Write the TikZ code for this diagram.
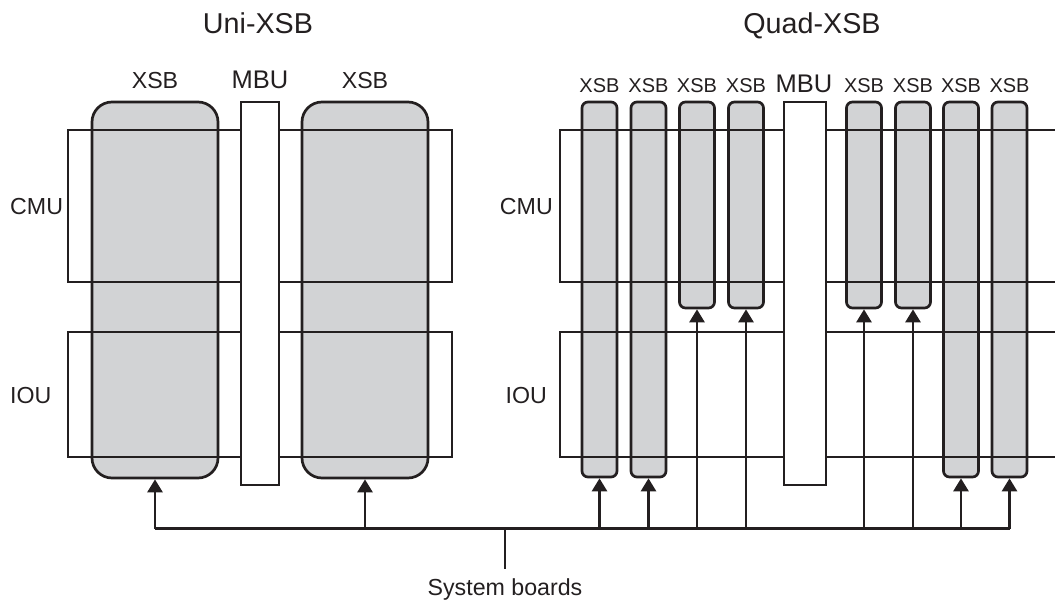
\documentclass[tikz,border=0pt]{standalone}
\usepackage{fontspec}
\setmainfont{Liberation Sans}
\usetikzlibrary{arrows.meta}
\definecolor{xsbgray}{RGB}{210,211,213}
\definecolor{ink}{RGB}{35,31,32}
\begin{document}
\begin{tikzpicture}[x=1pt,y=-1pt,
  lw/.style={line width=2.7pt, draw=ink},
  bigxsb/.style={lw, fill=xsbgray, rounded corners=20pt, minimum width=126pt, minimum height=376pt, inner sep=0pt},
  longxsb/.style={lw, fill=xsbgray, rounded corners=6pt, minimum width=35pt, minimum height=375pt, inner sep=0pt},
  shortxsb/.style={lw, fill=xsbgray, rounded corners=6pt, minimum width=35pt, minimum height=206pt, inner sep=0pt},
  unitbox/.style={lw, inner sep=0pt},
  mbubox/.style={lw, fill=white, inner sep=0pt},
  arr/.style={lw, -{Triangle[width=15pt,length=13pt]}},
  bus/.style={lw},
  lab/.style={inner sep=0pt, text=ink, anchor=base},
  title/.style={lab, font=\fontsize{28.7}{32}\selectfont},
  txt/.style={lab, font=\fontsize{23.2}{27}\selectfont},
  mbutxt/.style={lab, font=\fontsize{25.5}{29}\selectfont},
  smalltxt/.style={lab, font=\fontsize{20}{24}\selectfont}
]
\useasboundingbox (0,0) rectangle (1055,601);
\clip (0,0) rectangle (1055,601);

% ---------- Uni-XSB ----------
\node[bigxsb] (ux1) at (155,290) {};
\node[bigxsb] (ux2) at (365,290) {};
\node[unitbox, minimum width=384pt, minimum height=152pt] (ucmu) at (260,206) {};
\node[unitbox, minimum width=384pt, minimum height=125pt] (uiou) at (260,394.5) {};
\node[mbubox, minimum width=38pt, minimum height=383pt] (umbu) at (260,293.5) {};

\node[title] (tuni) at (258,34) {Uni-XSB};
\node[txt] (lux1) at (155,89) {XSB};
\node[mbutxt] (lumbu) at (260,89) {MBU};
\node[txt] (lux2) at (365,89) {XSB};
\node[txt, anchor=base west] (lucmu) at (10,215) {CMU};
\node[txt, anchor=base west] (luiou) at (10,403) {IOU};

% ---------- Quad-XSB ----------
\node[longxsb]  (q1) at (599.5,289.5) {};
\node[longxsb]  (q2) at (648.5,289.5) {};
\node[shortxsb] (q3) at (697,205) {};
\node[shortxsb] (q4) at (746,205) {};
\node[shortxsb] (q5) at (864,205) {};
\node[shortxsb] (q6) at (913,205) {};
\node[longxsb]  (q7) at (961,289.5) {};
\node[longxsb]  (q8) at (1009.5,289.5) {};
\node[unitbox, minimum width=520pt, minimum height=152pt] (qcmu) at (820,206) {};
\node[unitbox, minimum width=520pt, minimum height=125pt] (qiou) at (820,394.5) {};
\node[mbubox, minimum width=42pt, minimum height=383pt] (qmbu) at (805,293.5) {};

\node[title] (tquad) at (812,34) {Quad-XSB};
\foreach \n in {1,...,8} {
  \node[smalltxt] (lq\n) at (q\n.north |- 0,93) {XSB};
}
\node[mbutxt] (lqmbu) at (804,93) {MBU};
\node[txt, anchor=base east] (lqcmu) at (553,215) {CMU};
\node[txt, anchor=base east] (lqiou) at (547,403) {IOU};

% ---------- System boards bus ----------
\coordinate (busy) at (0,528.5);
\coordinate (busL) at (ux1.south |- busy);
\coordinate (busR) at (q8.south |- busy);
\coordinate (stubtop) at (505,528.5);
\coordinate (stubbot) at (505,569);
\node[txt] (sys) at (505,595) {System boards};

\draw[bus] (busL) -- (busR);
\draw[bus] (stubtop) -- (stubbot);
\draw[arr] (busL) -- (ux1.south);
\draw[arr] (ux2.south |- busy) -- (ux2.south);
\foreach \n in {1,...,8} {
  \draw[arr] (q\n.south |- busy) -- (q\n.south);
}
\end{tikzpicture}
\end{document}
